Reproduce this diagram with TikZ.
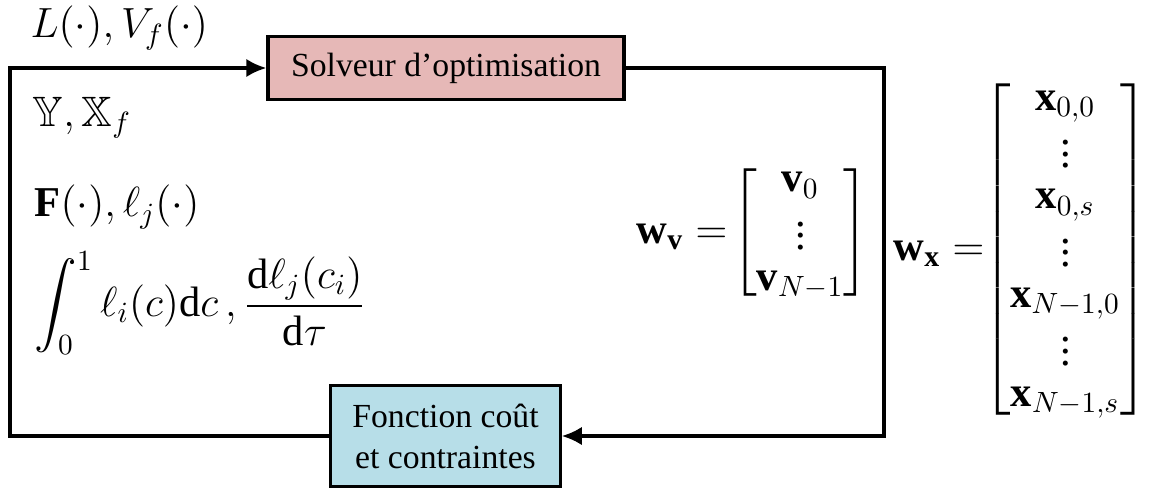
\documentclass[tikz,border=0pt]{standalone}
\usepackage{amsmath}
\usepackage{amssymb}
\usepackage{fontspec}
\setmainfont{Liberation Serif}
\usetikzlibrary{arrows.meta,calc,positioning}
\definecolor{solvpink}{RGB}{230,184,183}
\definecolor{coutblue}{RGB}{183,222,232}

\begin{document}
\begin{tikzpicture}[x=0.012cm, y=-0.012cm,
      block/.style={draw=black, line width=1.1pt, align=center, inner sep=4pt, font=\fontsize{11.5}{14}\selectfont},
      loop/.style={draw=black, line width=1.1pt},
      tip/.style={-{Latex[length=2.4mm,width=2.2mm]}},
      lbl/.style={anchor=west, inner sep=0pt, font=\fontsize{14.5}{16}\selectfont},
      vec/.style={anchor=west, inner sep=0pt, font=\fontsize{14.5}{14}\selectfont}
    ]
      \useasboundingbox (0,0) rectangle (1152,491);

      \node[block, fill=solvpink, minimum width=4.27cm, minimum height=0.76cm] (solveur) at (446,68) {Solveur d'optimisation};
      \node[block, fill=coutblue, minimum width=2.75cm, minimum height=1.22cm] (cout) at (445.5,436) {Fonction coût\\et contraintes};

      \coordinate (tl) at (10,68);
      \coordinate (br) at (884,436);

      \draw[loop, tip] (solveur.east) -| (br) -- (cout.east);
      \draw[loop, tip] (cout.west) -| (tl) -- (solveur.west);

      \node[lbl] (ellv) at (30,28) {$L(\cdot), V_f(\cdot)$};
      \node[lbl] (ensembles) at (32,118) {$\mathbb{Y}, \mathbb{X}_f$};
      \node[lbl] (dyn) at (34,207) {$\mathbf{F}(\cdot), \ell_j(\cdot)$};
      \node[lbl] (integ) at (34,303) {$\displaystyle\int_0^1 \ell_i(c)\mathrm{d}c\,, \frac{\mathrm{d}\ell_j(c_i)}{\mathrm{d}\tau}$};

      \node[vec] (wv) at (636,233) {$\mathbf{w}_{\mathbf{v}} =\! \begin{bmatrix} \mathbf{v}_0 \\ \vdots \\ \mathbf{v}_{N-1} \end{bmatrix}$};
      \node[vec] (wx) at (893,250) {$\mathbf{w}_{\mathbf{x}} =\!\! \begin{bmatrix} \mathbf{x}_{0,0} \\ \vdots \\ \mathbf{x}_{0,s} \\ \vdots \\ \mathbf{x}_{N-1,0} \\ \vdots \\ \mathbf{x}_{N-1,s} \end{bmatrix}$};
    \end{tikzpicture}
\end{document}
